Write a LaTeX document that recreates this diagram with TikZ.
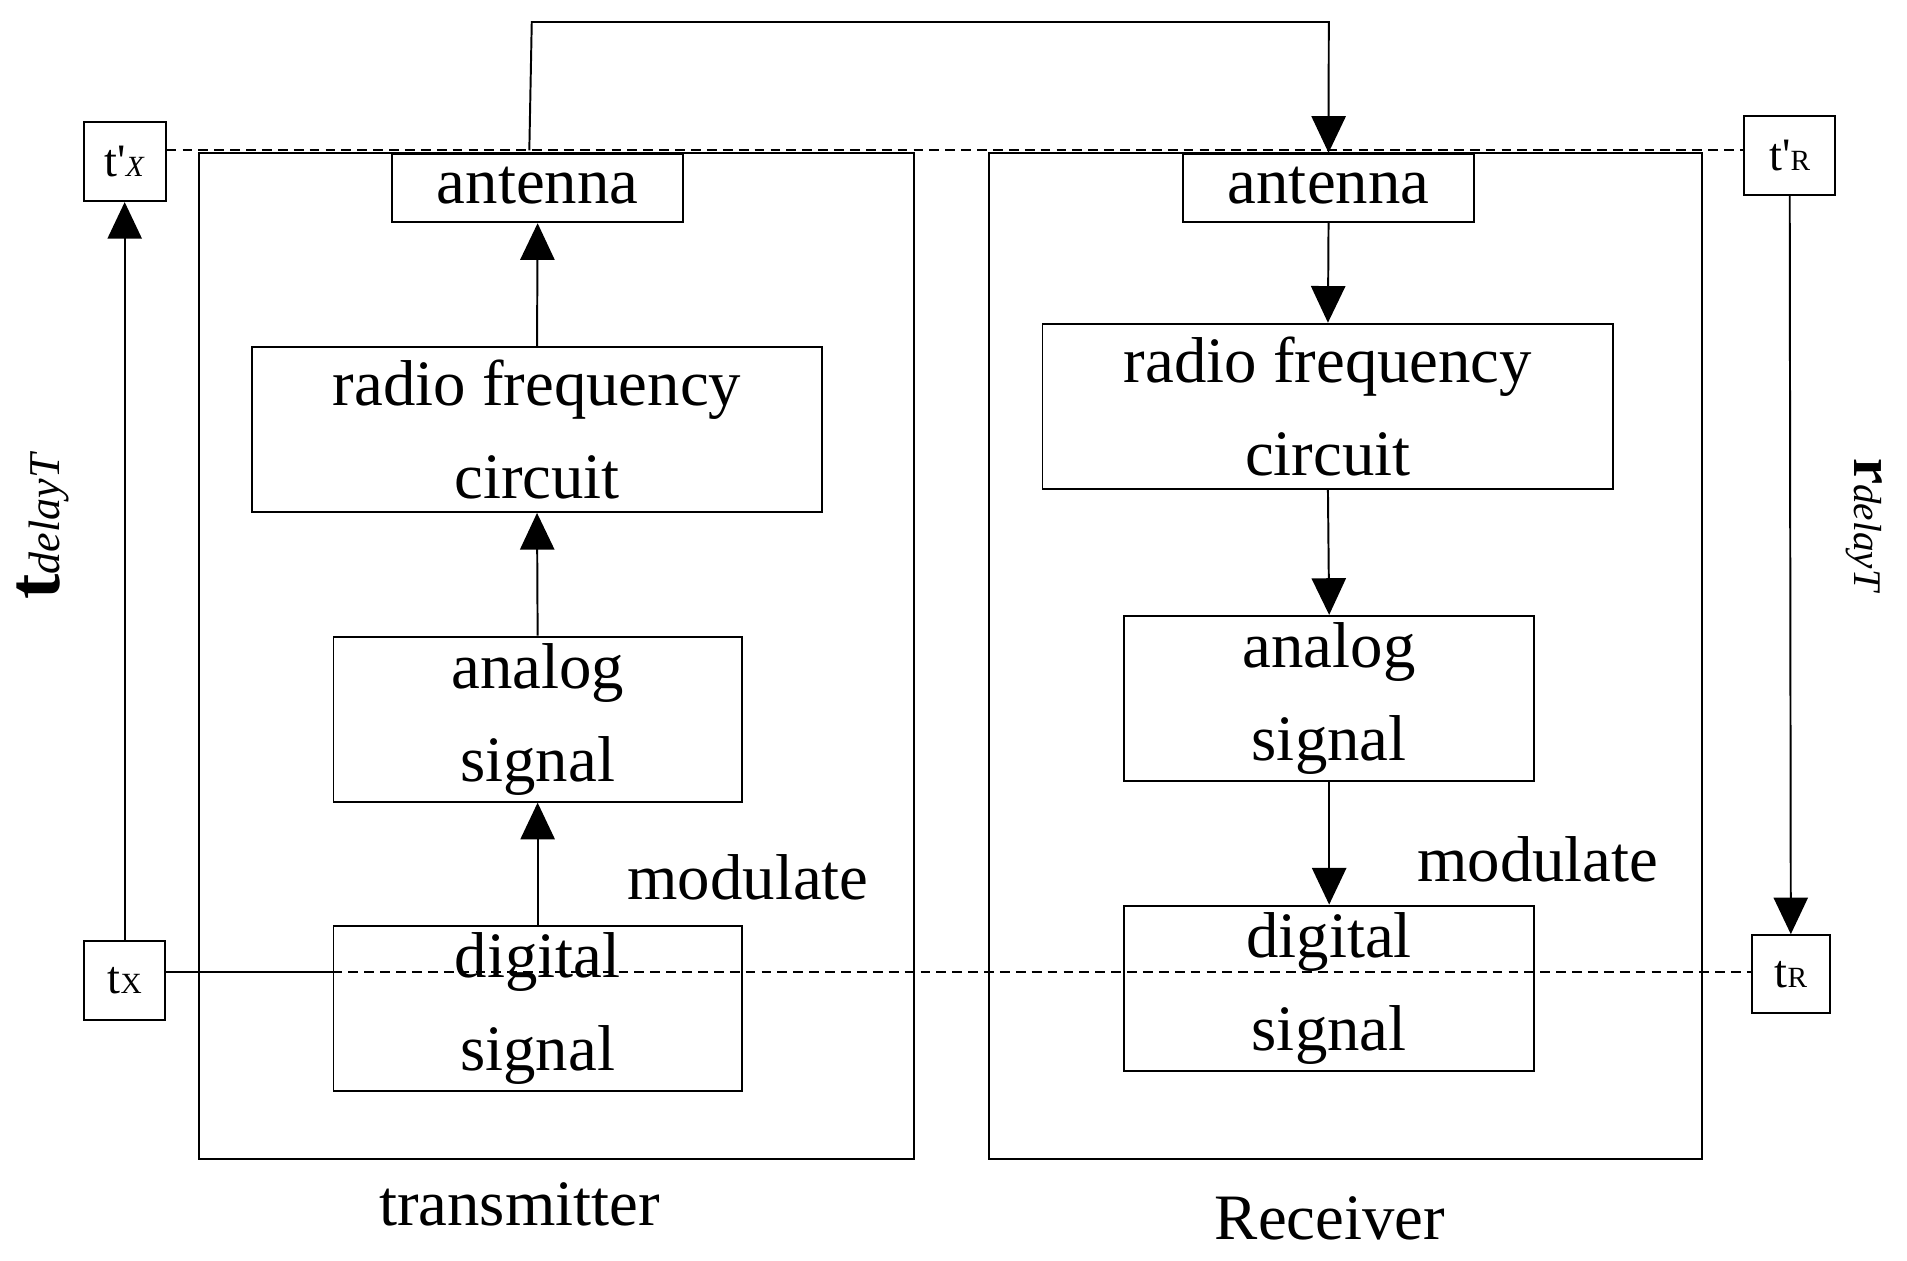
\documentclass[tikz,border=0pt]{standalone}
\usepackage{fontspec}
\setmainfont{Liberation Serif}
\usetikzlibrary{arrows.meta}
\begin{document}
\begin{tikzpicture}[x=1pt,y=-1pt,
  box/.style={draw,line width=1.6pt,inner sep=0pt,anchor=north west},
  txt/.style={font=\fontsize{53}{76}\selectfont,align=center},
  small/.style={draw,line width=1.6pt,inner sep=0pt,font=\fontsize{38}{40}\selectfont},
  ln/.style={line width=1.6pt},
  arr/.style={ln,-{Triangle[length=30pt,width=28pt]}}]
\useasboundingbox (0,0) rectangle (1560,1031);
% outer boxes
\draw[ln] (163,125) rectangle (748,948);
\draw[ln] (809,125) rectangle (1392,948);
% transmitter
\node[box,minimum width=238,minimum height=56] (aT) at (320,125) {};
\node[txt] at ([yshift=2]aT.center) {antenna};
\node[box,minimum width=467,minimum height=135] (rT) at (205,283) {};
\node[txt] at (rT.center) {radio frequency\\circuit};
\node[box,minimum width=334,minimum height=135] (nT) at (272,520) {};
\node[txt] at (nT.center) {analog\\signal};
\node[box,minimum width=334,minimum height=135] (dT) at (272,757) {};
% receiver
\node[box,minimum width=238,minimum height=56] (aR) at (967,125) {};
\node[txt] at ([yshift=2]aR.center) {antenna};
\node[box,minimum width=467,minimum height=135] (rR) at (852,264) {};
\node[txt] at (rR.center) {radio frequency\\circuit};
\node[box,minimum width=335,minimum height=135] (nR) at (919,503) {};
\node[txt] at (nR.center) {analog\\signal};
\node[box,minimum width=335,minimum height=135] (dR) at (919,740) {};
% time boxes
\node[small,minimum width=67,minimum height=65] (tpX) at (102,132) {t\textquotesingle\textit{\fontsize{24}{24}\selectfont X}};
\node[small,minimum width=74,minimum height=65] (tpR) at (1464,127) {t\textquotesingle\fontsize{24}{24}\selectfont R};
\node[small,minimum width=66,minimum height=65] (tX) at (102,802) {t\fontsize{24}{24}\selectfont X};
\node[small,minimum width=64,minimum height=64] (tR) at (1465,797) {t\fontsize{24}{24}\selectfont R};
% lines
\draw[ln,dashed,dash pattern=on 8pt off 5pt] (tpX.east |- 0,123) -- (tpR.west |- 0,123);
\draw[ln] (tX.east |- 0,795) -- (272,795);
\draw[ln,dashed,dash pattern=on 8pt off 5pt] (272,795) -- (tR.west |- 0,795);
\node[txt] at (dT.center) {digital\\signal};
\node[txt] at (dR.center) {digital\\signal};
\draw[arr] (tX) -- (tpX);
\draw[arr] (tpR) -- (tR);
\coordinate (c1) at (433,123);
\draw[arr] (c1) -- (435,18) -- (1087,18) -- (aR.north);
% internal arrows
\draw[arr] (dT.north) -- (nT.south);
\draw[arr] (nT.north) -- (rT.south);
\draw[arr] (rT.north) -- (aT.south);
\draw[arr] (aR.south) -- (rR.north);
\draw[arr] (rR.south) -- (nR.north);
\draw[arr] (nR.south) -- (dR.north);
% labels
\node[txt] at (612,718) {modulate};
\node[txt] at (1258,703) {modulate};
\node[txt] at (425,985) {transmitter};
\node[txt] at (1088,997) {Receiver};
\node[rotate=90,font=\fontsize{62}{62}\selectfont] at (35,430) {\textbf{t}\textit{\fontsize{36}{36}\selectfont delayT}};
\node[rotate=-90,font=\fontsize{48}{48}\selectfont] at (1525,430) {\textbf{r}\textit{\fontsize{32}{32}\selectfont delayT}};
\end{tikzpicture}
\end{document}
